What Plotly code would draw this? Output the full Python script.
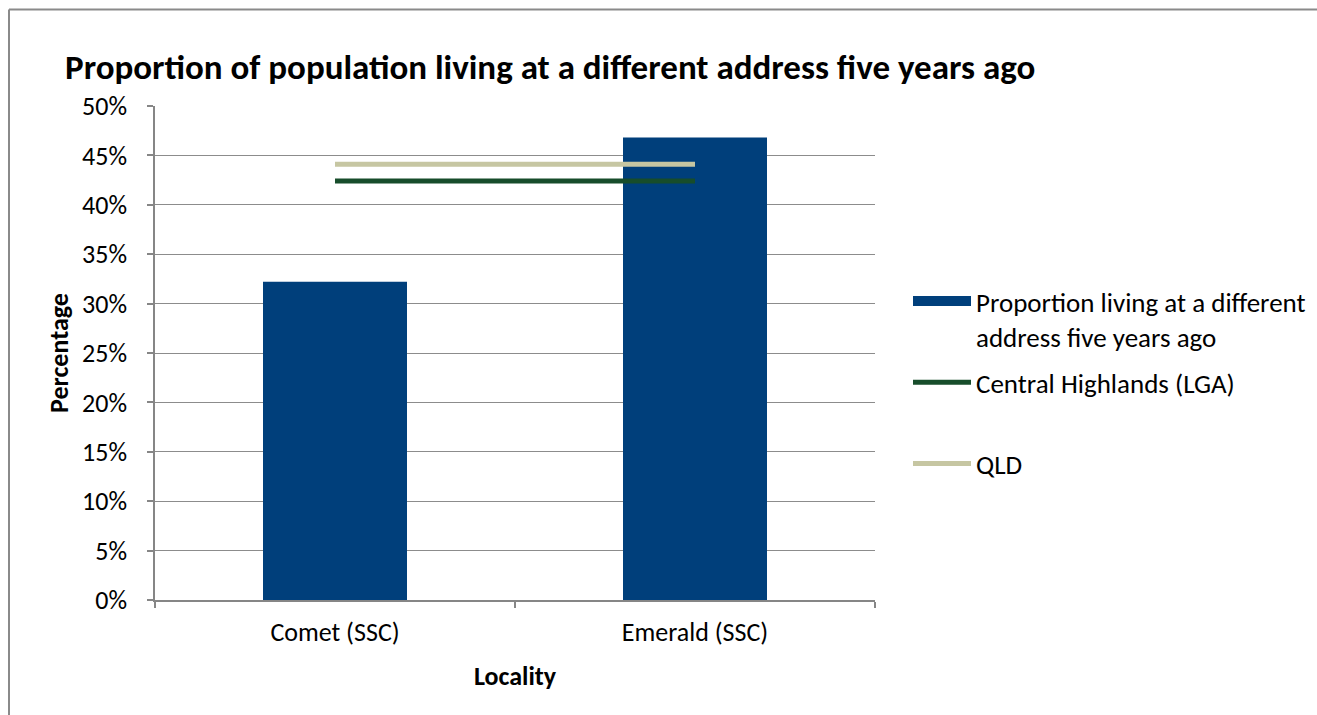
import plotly.graph_objects as go

categories = ["Comet (SSC)", "Emerald (SSC)"]
proportion = [0.322, 0.468]
central_highlands = [0.424, 0.424]
qld = [0.441, 0.441]
y_ticks = [0, 0.05, 0.10, 0.15, 0.20, 0.25, 0.30, 0.35, 0.40, 0.45, 0.50]
y_tick_labels = ["0%", "5%", "10%", "15%", "20%", "25%", "30%", "35%", "40%", "45%", "50%"]

FONT = "Carlito, Calibri, Lato, sans-serif"
W, H = 1317, 715
L, R, T, B = 155, 875, 106, 600
BAR_COLOR = "#003F7B"

fig = go.Figure()
fig.add_trace(go.Bar(
    x=categories, y=proportion,
    name="Proportion living at a different address five years ago",
    marker=dict(color=BAR_COLOR, line=dict(width=0)),
    width=0.4, showlegend=False,
))
# legend proxy for the bar series (wide rectangle symbol)
fig.add_trace(go.Scatter(
    x=[None], y=[None], mode="lines",
    name="Proportion living at a different<br>address five years ago",
    line=dict(color=BAR_COLOR, width=14), legendgroup="a",
))
fig.add_trace(go.Scatter(
    x=categories, y=central_highlands, mode="lines",
    name="Central Highlands (LGA)<br>&nbsp;", legendgroup="b",
    line=dict(color="#174D2B", width=5),
))
fig.add_trace(go.Scatter(
    x=categories, y=qld, mode="lines",
    name="QLD", legendgroup="c",
    line=dict(color="#C6C6A2", width=5),
))

pw = R - L
ph = B - T
def px(x):
    return (x - L) / pw
def py(y):
    return (B - y) / ph

# chart-area border: only its left and top edges are inside the frame
border = dict(color="#8A8A8A", width=2)
fig.add_shape(type="line", xref="paper", yref="paper",
              x0=px(9), x1=px(9), y0=py(760), y1=py(9.5), line=border, layer="below")
fig.add_shape(type="line", xref="paper", yref="paper",
              x0=px(9), x1=px(1450), y0=py(9.5), y1=py(9.5), line=border, layer="below")

fig.update_layout(
    width=W, height=H,
    margin=dict(l=L, r=W - R, t=T, b=H - B, pad=0, autoexpand=False),
    paper_bgcolor="white", plot_bgcolor="white",
    font=dict(family=FONT, size=26, color="#000000"),
    title=dict(text="<b>Proportion of population living at a different address five years ago</b>",
               font=dict(family=FONT, size=35, color="#000000"),
               xref="container", yref="container", x=65 / W, xanchor="left",
               y=1 - 67 / H, yanchor="middle"),
    xaxis=dict(
        type="category", range=[-0.5, 1.5],
        showline=True, linecolor="#868686", linewidth=1.5,
        ticks="outside", tickson="boundaries", ticklen=6, tickcolor="#868686", tickwidth=1.5,
        showgrid=False, zeroline=False,
        tickfont=dict(family=FONT, size=26),
        ticklabelstandoff=8,
        title=dict(text="<b>Locality</b>", font=dict(family=FONT, size=26), standoff=20),
    ),
    yaxis=dict(
        range=[0, 0.5], tickvals=y_ticks, ticktext=y_tick_labels,
        showline=True, linecolor="#868686", linewidth=1.5,
        ticks="outside", ticklen=6, tickcolor="#868686", tickwidth=1.5,
        showgrid=True, gridcolor="#8C8C8C", gridwidth=1.3,
        zeroline=False,
        tickfont=dict(family=FONT, size=26),
        ticklabelstandoff=15,
        title=dict(text="<b>Percentage</b>", font=dict(family=FONT, size=26), standoff=6),
    ),
    legend=dict(
        x=px(908), xanchor="left", y=py(277), yanchor="top",
        font=dict(family=FONT, size=27),
        itemwidth=58, tracegroupgap=8, valign="top",
        bgcolor="rgba(0,0,0,0)",
    ),
    showlegend=True,
)

fig.write_html("out.html", post_script="document.body.style.margin='0';",
               config={"displayModeBar": False})
